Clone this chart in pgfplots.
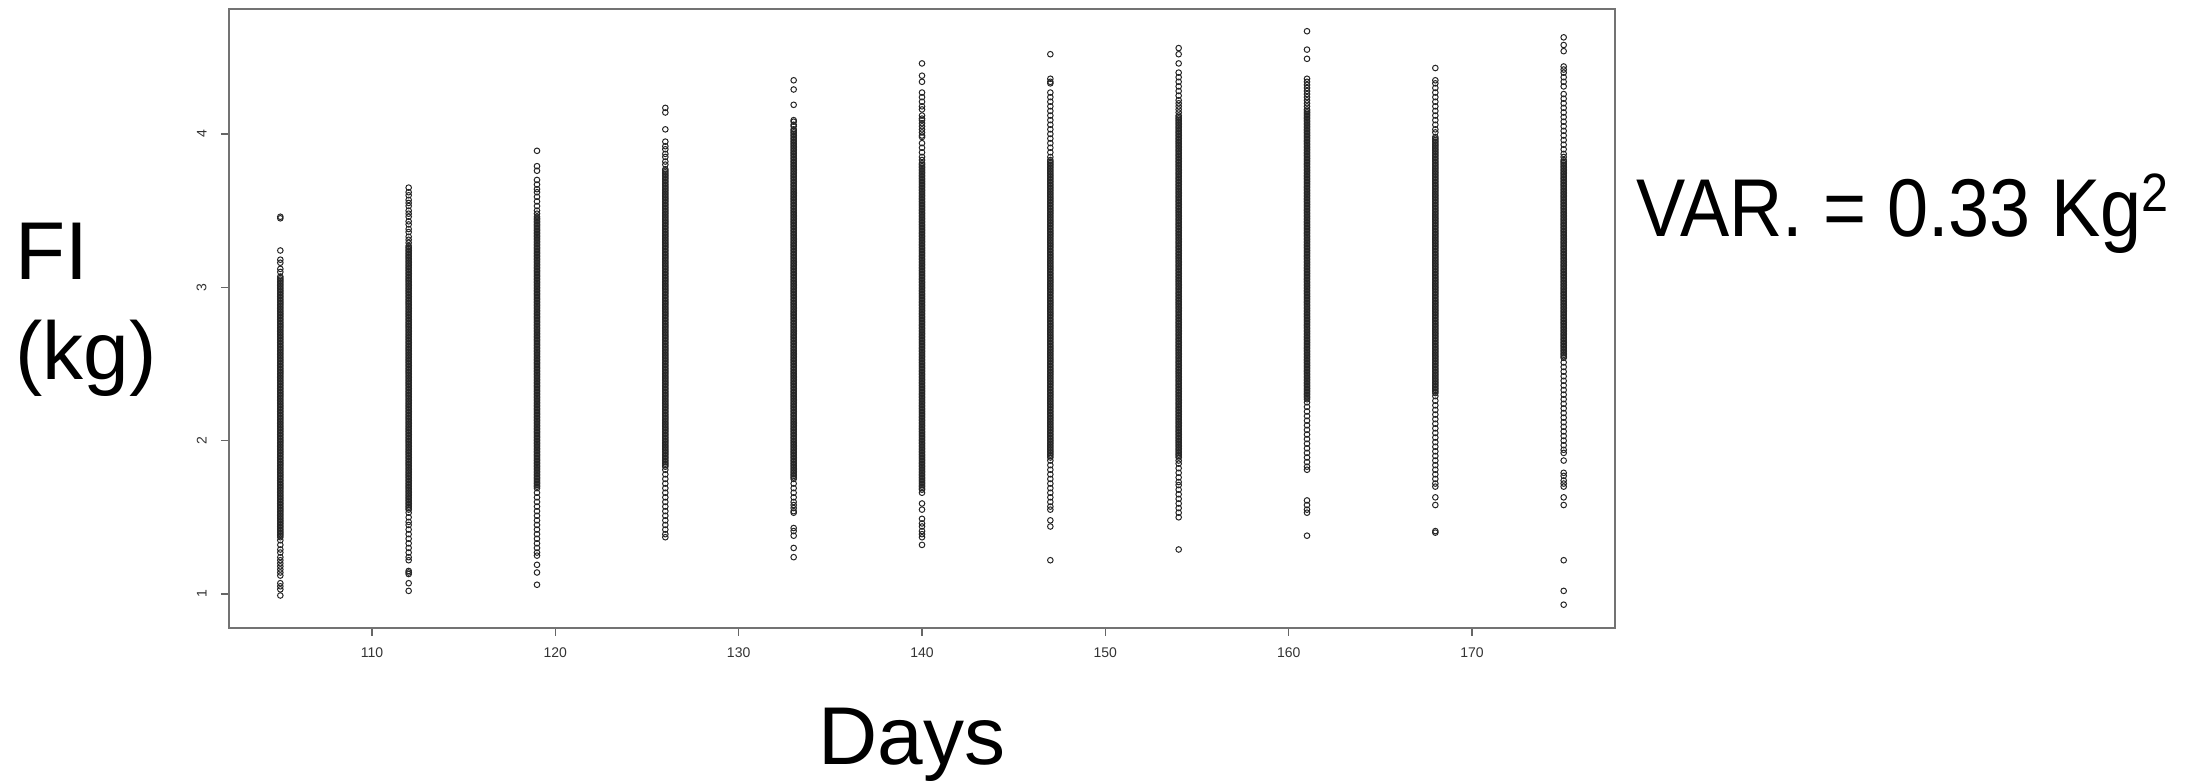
\documentclass[border=0pt]{standalone}
\usepackage{graphicx}
\usepackage{fontspec}
\setmainfont{Liberation Sans}
\usepackage{pgfplots}
\pgfplotsset{compat=1.18}
\begin{document}
\begin{tikzpicture}
\path[use as bounding box] (-114.5pt,-76.5pt) rectangle (988.5pt,314pt);
\begin{axis}[
  scale only axis, width=693pt, height=309.5pt,
  xmin=102.2, xmax=177.8, ymin=0.778, ymax=4.815,
  xtick={110,120,130,140,150,160,170}, ytick={1,2,3,4},
  tick pos=left, tick align=outside, major tick length=4pt,
  axis line style={black!55, line width=0.6pt},
  every tick/.style={black!60, line width=0.6pt},
  /pgf/number format/assume math mode=true,
  tick label style={font=\fontsize{7}{8}\selectfont, text=black!80, inner sep=0pt},
  xticklabel style={anchor=north},
  xticklabel shift=5.5pt,
  yticklabel style={rotate=90, anchor=south},
  yticklabel shift=7pt,
  clip=false,
  fi/.style={only marks, mark=o, mark size=1.4pt, black, mark options={line width=0.5pt, draw=black!85, fill=none}},
]
% day 105
\addplot[fi] coordinates {(105,3.46)(105,3.45)(105,3.24)(105,3.18)(105,3.16)(105,3.12)(105,3.10)
(105,3.07)(105,3.06)(105,3.05)(105,3.04)(105,3.03)(105,3.02)(105,3.01)(105,3.00)
(105,2.99)(105,2.98)(105,2.97)(105,2.96)(105,2.95)(105,2.94)(105,2.93)(105,2.92)(105,2.91)(105,2.90)
(105,2.89)(105,2.88)(105,2.87)(105,2.86)(105,2.85)(105,2.84)(105,2.83)(105,2.82)(105,2.81)(105,2.80)
(105,2.79)(105,2.78)(105,2.77)(105,2.76)(105,2.75)(105,2.74)(105,2.73)(105,2.72)(105,2.71)(105,2.70)
(105,2.69)(105,2.68)(105,2.67)(105,2.66)(105,2.65)(105,2.64)(105,2.63)(105,2.62)(105,2.61)(105,2.60)
(105,2.59)(105,2.58)(105,2.57)(105,2.56)(105,2.55)(105,2.54)(105,2.53)(105,2.52)(105,2.51)(105,2.50)
(105,2.49)(105,2.48)(105,2.47)(105,2.46)(105,2.45)(105,2.44)(105,2.43)(105,2.42)(105,2.41)(105,2.40)
(105,2.39)(105,2.38)(105,2.37)(105,2.36)(105,2.35)(105,2.34)(105,2.33)(105,2.32)(105,2.31)(105,2.30)
(105,2.29)(105,2.28)(105,2.27)(105,2.26)(105,2.25)(105,2.24)(105,2.23)(105,2.22)(105,2.21)(105,2.20)
(105,2.19)(105,2.18)(105,2.17)(105,2.16)(105,2.15)(105,2.14)(105,2.13)(105,2.12)(105,2.11)(105,2.10)
(105,2.09)(105,2.08)(105,2.07)(105,2.06)(105,2.05)(105,2.04)(105,2.03)(105,2.02)(105,2.01)(105,2.00)
(105,1.99)(105,1.98)(105,1.97)(105,1.96)(105,1.95)(105,1.94)(105,1.93)(105,1.92)(105,1.91)(105,1.90)
(105,1.89)(105,1.88)(105,1.87)(105,1.86)(105,1.85)(105,1.84)(105,1.83)(105,1.82)(105,1.81)(105,1.80)
(105,1.79)(105,1.78)(105,1.77)(105,1.76)(105,1.75)(105,1.74)(105,1.73)(105,1.72)(105,1.71)(105,1.70)
(105,1.69)(105,1.68)(105,1.67)(105,1.66)(105,1.65)(105,1.64)(105,1.63)(105,1.62)(105,1.61)(105,1.60)
(105,1.59)(105,1.58)(105,1.57)(105,1.56)(105,1.55)(105,1.54)(105,1.53)(105,1.52)(105,1.51)(105,1.50)
(105,1.49)(105,1.48)(105,1.47)(105,1.46)(105,1.45)(105,1.44)(105,1.43)(105,1.42)(105,1.41)(105,1.40)
(105,1.39)(105,1.38)(105,1.37)
(105,1.35)(105,1.32)(105,1.29)(105,1.27)(105,1.24)(105,1.22)(105,1.20)(105,1.18)(105,1.16)(105,1.14)(105,1.12)(105,1.07)(105,1.05)(105,1.03)(105,0.99)};
% day 112
\addplot[fi] coordinates {(112,3.65)(112,3.62)(112,3.60)(112,3.57)(112,3.55)(112,3.53)(112,3.50)(112,3.48)(112,3.46)(112,3.43)(112,3.41)(112,3.38)(112,3.36)(112,3.33)(112,3.31)(112,3.29)
(112,3.27)(112,3.26)(112,3.25)(112,3.24)(112,3.23)(112,3.22)(112,3.21)(112,3.20)
(112,3.19)(112,3.18)(112,3.17)(112,3.16)(112,3.15)(112,3.14)(112,3.13)(112,3.12)(112,3.11)(112,3.10)
(112,3.09)(112,3.08)(112,3.07)(112,3.06)(112,3.05)(112,3.04)(112,3.03)(112,3.02)(112,3.01)(112,3.00)
(112,2.99)(112,2.98)(112,2.97)(112,2.96)(112,2.95)(112,2.94)(112,2.93)(112,2.92)(112,2.91)(112,2.90)
(112,2.89)(112,2.88)(112,2.87)(112,2.86)(112,2.85)(112,2.84)(112,2.83)(112,2.82)(112,2.81)(112,2.80)
(112,2.79)(112,2.78)(112,2.77)(112,2.76)(112,2.75)(112,2.74)(112,2.73)(112,2.72)(112,2.71)(112,2.70)
(112,2.69)(112,2.68)(112,2.67)(112,2.66)(112,2.65)(112,2.64)(112,2.63)(112,2.62)(112,2.61)(112,2.60)
(112,2.59)(112,2.58)(112,2.57)(112,2.56)(112,2.55)(112,2.54)(112,2.53)(112,2.52)(112,2.51)(112,2.50)
(112,2.49)(112,2.48)(112,2.47)(112,2.46)(112,2.45)(112,2.44)(112,2.43)(112,2.42)(112,2.41)(112,2.40)
(112,2.39)(112,2.38)(112,2.37)(112,2.36)(112,2.35)(112,2.34)(112,2.33)(112,2.32)(112,2.31)(112,2.30)
(112,2.29)(112,2.28)(112,2.27)(112,2.26)(112,2.25)(112,2.24)(112,2.23)(112,2.22)(112,2.21)(112,2.20)
(112,2.19)(112,2.18)(112,2.17)(112,2.16)(112,2.15)(112,2.14)(112,2.13)(112,2.12)(112,2.11)(112,2.10)
(112,2.09)(112,2.08)(112,2.07)(112,2.06)(112,2.05)(112,2.04)(112,2.03)(112,2.02)(112,2.01)(112,2.00)
(112,1.99)(112,1.98)(112,1.97)(112,1.96)(112,1.95)(112,1.94)(112,1.93)(112,1.92)(112,1.91)(112,1.90)
(112,1.89)(112,1.88)(112,1.87)(112,1.86)(112,1.85)(112,1.84)(112,1.83)(112,1.82)(112,1.81)(112,1.80)
(112,1.79)(112,1.78)(112,1.77)(112,1.76)(112,1.75)(112,1.74)(112,1.73)(112,1.72)(112,1.71)(112,1.70)
(112,1.69)(112,1.68)(112,1.67)(112,1.66)(112,1.65)(112,1.64)(112,1.63)(112,1.62)(112,1.61)(112,1.60)
(112,1.59)(112,1.58)(112,1.57)(112,1.56)(112,1.55)
(112,1.53)(112,1.50)(112,1.47)(112,1.45)(112,1.42)(112,1.39)(112,1.36)(112,1.33)(112,1.30)(112,1.27)(112,1.24)(112,1.22)(112,1.15)(112,1.14)(112,1.13)(112,1.07)(112,1.02)};
% day 119
\addplot[fi] coordinates {(119,3.89)(119,3.79)(119,3.76)(119,3.70)(119,3.67)(119,3.64)(119,3.62)(119,3.59)(119,3.56)(119,3.53)(119,3.50)(119,3.48)
(119,3.46)(119,3.45)(119,3.44)(119,3.43)(119,3.42)(119,3.41)(119,3.40)
(119,3.39)(119,3.38)(119,3.37)(119,3.36)(119,3.35)(119,3.34)(119,3.33)(119,3.32)(119,3.31)(119,3.30)
(119,3.29)(119,3.28)(119,3.27)(119,3.26)(119,3.25)(119,3.24)(119,3.23)(119,3.22)(119,3.21)(119,3.20)
(119,3.19)(119,3.18)(119,3.17)(119,3.16)(119,3.15)(119,3.14)(119,3.13)(119,3.12)(119,3.11)(119,3.10)
(119,3.09)(119,3.08)(119,3.07)(119,3.06)(119,3.05)(119,3.04)(119,3.03)(119,3.02)(119,3.01)(119,3.00)
(119,2.99)(119,2.98)(119,2.97)(119,2.96)(119,2.95)(119,2.94)(119,2.93)(119,2.92)(119,2.91)(119,2.90)
(119,2.89)(119,2.88)(119,2.87)(119,2.86)(119,2.85)(119,2.84)(119,2.83)(119,2.82)(119,2.81)(119,2.80)
(119,2.79)(119,2.78)(119,2.77)(119,2.76)(119,2.75)(119,2.74)(119,2.73)(119,2.72)(119,2.71)(119,2.70)
(119,2.69)(119,2.68)(119,2.67)(119,2.66)(119,2.65)(119,2.64)(119,2.63)(119,2.62)(119,2.61)(119,2.60)
(119,2.59)(119,2.58)(119,2.57)(119,2.56)(119,2.55)(119,2.54)(119,2.53)(119,2.52)(119,2.51)(119,2.50)
(119,2.49)(119,2.48)(119,2.47)(119,2.46)(119,2.45)(119,2.44)(119,2.43)(119,2.42)(119,2.41)(119,2.40)
(119,2.39)(119,2.38)(119,2.37)(119,2.36)(119,2.35)(119,2.34)(119,2.33)(119,2.32)(119,2.31)(119,2.30)
(119,2.29)(119,2.28)(119,2.27)(119,2.26)(119,2.25)(119,2.24)(119,2.23)(119,2.22)(119,2.21)(119,2.20)
(119,2.19)(119,2.18)(119,2.17)(119,2.16)(119,2.15)(119,2.14)(119,2.13)(119,2.12)(119,2.11)(119,2.10)
(119,2.09)(119,2.08)(119,2.07)(119,2.06)(119,2.05)(119,2.04)(119,2.03)(119,2.02)(119,2.01)(119,2.00)
(119,1.99)(119,1.98)(119,1.97)(119,1.96)(119,1.95)(119,1.94)(119,1.93)(119,1.92)(119,1.91)(119,1.90)
(119,1.89)(119,1.88)(119,1.87)(119,1.86)(119,1.85)(119,1.84)(119,1.83)(119,1.82)(119,1.81)(119,1.80)
(119,1.79)(119,1.78)(119,1.77)(119,1.76)(119,1.75)(119,1.74)(119,1.73)(119,1.72)(119,1.71)(119,1.70)(119,1.69)
(119,1.66)(119,1.63)(119,1.60)(119,1.57)(119,1.54)(119,1.51)(119,1.48)(119,1.45)(119,1.42)(119,1.39)(119,1.36)(119,1.33)(119,1.30)(119,1.27)(119,1.25)(119,1.19)(119,1.14)(119,1.06)};
% day 126
\addplot[fi] coordinates {(126,4.17)(126,4.14)(126,4.03)(126,3.95)(126,3.92)(126,3.90)(126,3.87)(126,3.85)(126,3.82)(126,3.80)
(126,3.77)(126,3.76)(126,3.75)(126,3.74)(126,3.73)(126,3.72)(126,3.71)(126,3.70)
(126,3.69)(126,3.68)(126,3.67)(126,3.66)(126,3.65)(126,3.64)(126,3.63)(126,3.62)(126,3.61)(126,3.60)
(126,3.59)(126,3.58)(126,3.57)(126,3.56)(126,3.55)(126,3.54)(126,3.53)(126,3.52)(126,3.51)(126,3.50)
(126,3.49)(126,3.48)(126,3.47)(126,3.46)(126,3.45)(126,3.44)(126,3.43)(126,3.42)(126,3.41)(126,3.40)
(126,3.39)(126,3.38)(126,3.37)(126,3.36)(126,3.35)(126,3.34)(126,3.33)(126,3.32)(126,3.31)(126,3.30)
(126,3.29)(126,3.28)(126,3.27)(126,3.26)(126,3.25)(126,3.24)(126,3.23)(126,3.22)(126,3.21)(126,3.20)
(126,3.19)(126,3.18)(126,3.17)(126,3.16)(126,3.15)(126,3.14)(126,3.13)(126,3.12)(126,3.11)(126,3.10)
(126,3.09)(126,3.08)(126,3.07)(126,3.06)(126,3.05)(126,3.04)(126,3.03)(126,3.02)(126,3.01)(126,3.00)
(126,2.99)(126,2.98)(126,2.97)(126,2.96)(126,2.95)(126,2.94)(126,2.93)(126,2.92)(126,2.91)(126,2.90)
(126,2.89)(126,2.88)(126,2.87)(126,2.86)(126,2.85)(126,2.84)(126,2.83)(126,2.82)(126,2.81)(126,2.80)
(126,2.79)(126,2.78)(126,2.77)(126,2.76)(126,2.75)(126,2.74)(126,2.73)(126,2.72)(126,2.71)(126,2.70)
(126,2.69)(126,2.68)(126,2.67)(126,2.66)(126,2.65)(126,2.64)(126,2.63)(126,2.62)(126,2.61)(126,2.60)
(126,2.59)(126,2.58)(126,2.57)(126,2.56)(126,2.55)(126,2.54)(126,2.53)(126,2.52)(126,2.51)(126,2.50)
(126,2.49)(126,2.48)(126,2.47)(126,2.46)(126,2.45)(126,2.44)(126,2.43)(126,2.42)(126,2.41)(126,2.40)
(126,2.39)(126,2.38)(126,2.37)(126,2.36)(126,2.35)(126,2.34)(126,2.33)(126,2.32)(126,2.31)(126,2.30)
(126,2.29)(126,2.28)(126,2.27)(126,2.26)(126,2.25)(126,2.24)(126,2.23)(126,2.22)(126,2.21)(126,2.20)
(126,2.19)(126,2.18)(126,2.17)(126,2.16)(126,2.15)(126,2.14)(126,2.13)(126,2.12)(126,2.11)(126,2.10)
(126,2.09)(126,2.08)(126,2.07)(126,2.06)(126,2.05)(126,2.04)(126,2.03)(126,2.02)(126,2.01)(126,2.00)
(126,1.99)(126,1.98)(126,1.97)(126,1.96)(126,1.95)(126,1.94)(126,1.93)(126,1.92)(126,1.91)(126,1.90)
(126,1.89)(126,1.88)(126,1.87)(126,1.86)(126,1.85)(126,1.84)(126,1.83)
(126,1.81)(126,1.78)(126,1.75)(126,1.72)(126,1.69)(126,1.66)(126,1.63)(126,1.60)(126,1.57)(126,1.54)(126,1.51)(126,1.48)(126,1.45)(126,1.42)(126,1.39)(126,1.37)};
% day 133
\addplot[fi] coordinates {(133,4.35)(133,4.29)(133,4.19)(133,4.09)(133,4.08)(133,4.06)(133,4.05)
(133,4.03)(133,4.02)(133,4.01)(133,4.00)
(133,3.99)(133,3.98)(133,3.97)(133,3.96)(133,3.95)(133,3.94)(133,3.93)(133,3.92)(133,3.91)(133,3.90)
(133,3.89)(133,3.88)(133,3.87)(133,3.86)(133,3.85)(133,3.84)(133,3.83)(133,3.82)(133,3.81)(133,3.80)
(133,3.79)(133,3.78)(133,3.77)(133,3.76)(133,3.75)(133,3.74)(133,3.73)(133,3.72)(133,3.71)(133,3.70)
(133,3.69)(133,3.68)(133,3.67)(133,3.66)(133,3.65)(133,3.64)(133,3.63)(133,3.62)(133,3.61)(133,3.60)
(133,3.59)(133,3.58)(133,3.57)(133,3.56)(133,3.55)(133,3.54)(133,3.53)(133,3.52)(133,3.51)(133,3.50)
(133,3.49)(133,3.48)(133,3.47)(133,3.46)(133,3.45)(133,3.44)(133,3.43)(133,3.42)(133,3.41)(133,3.40)
(133,3.39)(133,3.38)(133,3.37)(133,3.36)(133,3.35)(133,3.34)(133,3.33)(133,3.32)(133,3.31)(133,3.30)
(133,3.29)(133,3.28)(133,3.27)(133,3.26)(133,3.25)(133,3.24)(133,3.23)(133,3.22)(133,3.21)(133,3.20)
(133,3.19)(133,3.18)(133,3.17)(133,3.16)(133,3.15)(133,3.14)(133,3.13)(133,3.12)(133,3.11)(133,3.10)
(133,3.09)(133,3.08)(133,3.07)(133,3.06)(133,3.05)(133,3.04)(133,3.03)(133,3.02)(133,3.01)(133,3.00)
(133,2.99)(133,2.98)(133,2.97)(133,2.96)(133,2.95)(133,2.94)(133,2.93)(133,2.92)(133,2.91)(133,2.90)
(133,2.89)(133,2.88)(133,2.87)(133,2.86)(133,2.85)(133,2.84)(133,2.83)(133,2.82)(133,2.81)(133,2.80)
(133,2.79)(133,2.78)(133,2.77)(133,2.76)(133,2.75)(133,2.74)(133,2.73)(133,2.72)(133,2.71)(133,2.70)
(133,2.69)(133,2.68)(133,2.67)(133,2.66)(133,2.65)(133,2.64)(133,2.63)(133,2.62)(133,2.61)(133,2.60)
(133,2.59)(133,2.58)(133,2.57)(133,2.56)(133,2.55)(133,2.54)(133,2.53)(133,2.52)(133,2.51)(133,2.50)
(133,2.49)(133,2.48)(133,2.47)(133,2.46)(133,2.45)(133,2.44)(133,2.43)(133,2.42)(133,2.41)(133,2.40)
(133,2.39)(133,2.38)(133,2.37)(133,2.36)(133,2.35)(133,2.34)(133,2.33)(133,2.32)(133,2.31)(133,2.30)
(133,2.29)(133,2.28)(133,2.27)(133,2.26)(133,2.25)(133,2.24)(133,2.23)(133,2.22)(133,2.21)(133,2.20)
(133,2.19)(133,2.18)(133,2.17)(133,2.16)(133,2.15)(133,2.14)(133,2.13)(133,2.12)(133,2.11)(133,2.10)
(133,2.09)(133,2.08)(133,2.07)(133,2.06)(133,2.05)(133,2.04)(133,2.03)(133,2.02)(133,2.01)(133,2.00)
(133,1.99)(133,1.98)(133,1.97)(133,1.96)(133,1.95)(133,1.94)(133,1.93)(133,1.92)(133,1.91)(133,1.90)
(133,1.89)(133,1.88)(133,1.87)(133,1.86)(133,1.85)(133,1.84)(133,1.83)(133,1.82)(133,1.81)(133,1.80)
(133,1.79)(133,1.78)(133,1.77)(133,1.76)(133,1.75)
(133,1.72)(133,1.69)(133,1.66)(133,1.63)(133,1.60)(133,1.58)(133,1.56)(133,1.54)(133,1.53)(133,1.43)(133,1.41)(133,1.38)(133,1.30)(133,1.24)};
% day 140
\addplot[fi] coordinates {(140,4.46)(140,4.38)(140,4.34)(140,4.27)(140,4.24)(140,4.21)(140,4.18)(140,4.16)(140,4.12)(140,4.10)(140,4.09)(140,4.07)(140,4.05)(140,4.03)(140,4.01)(140,3.99)(140,3.98)(140,3.94)(140,3.91)(140,3.88)(140,3.85)(140,3.83)
(140,3.81)(140,3.80)
(140,3.79)(140,3.78)(140,3.77)(140,3.76)(140,3.75)(140,3.74)(140,3.73)(140,3.72)(140,3.71)(140,3.70)
(140,3.69)(140,3.68)(140,3.67)(140,3.66)(140,3.65)(140,3.64)(140,3.63)(140,3.62)(140,3.61)(140,3.60)
(140,3.59)(140,3.58)(140,3.57)(140,3.56)(140,3.55)(140,3.54)(140,3.53)(140,3.52)(140,3.51)(140,3.50)
(140,3.49)(140,3.48)(140,3.47)(140,3.46)(140,3.45)(140,3.44)(140,3.43)(140,3.42)(140,3.41)(140,3.40)
(140,3.39)(140,3.38)(140,3.37)(140,3.36)(140,3.35)(140,3.34)(140,3.33)(140,3.32)(140,3.31)(140,3.30)
(140,3.29)(140,3.28)(140,3.27)(140,3.26)(140,3.25)(140,3.24)(140,3.23)(140,3.22)(140,3.21)(140,3.20)
(140,3.19)(140,3.18)(140,3.17)(140,3.16)(140,3.15)(140,3.14)(140,3.13)(140,3.12)(140,3.11)(140,3.10)
(140,3.09)(140,3.08)(140,3.07)(140,3.06)(140,3.05)(140,3.04)(140,3.03)(140,3.02)(140,3.01)(140,3.00)
(140,2.99)(140,2.98)(140,2.97)(140,2.96)(140,2.95)(140,2.94)(140,2.93)(140,2.92)(140,2.91)(140,2.90)
(140,2.89)(140,2.88)(140,2.87)(140,2.86)(140,2.85)(140,2.84)(140,2.83)(140,2.82)(140,2.81)(140,2.80)
(140,2.79)(140,2.78)(140,2.77)(140,2.76)(140,2.75)(140,2.74)(140,2.73)(140,2.72)(140,2.71)(140,2.70)
(140,2.69)(140,2.68)(140,2.67)(140,2.66)(140,2.65)(140,2.64)(140,2.63)(140,2.62)(140,2.61)(140,2.60)
(140,2.59)(140,2.58)(140,2.57)(140,2.56)(140,2.55)(140,2.54)(140,2.53)(140,2.52)(140,2.51)(140,2.50)
(140,2.49)(140,2.48)(140,2.47)(140,2.46)(140,2.45)(140,2.44)(140,2.43)(140,2.42)(140,2.41)(140,2.40)
(140,2.39)(140,2.38)(140,2.37)(140,2.36)(140,2.35)(140,2.34)(140,2.33)(140,2.32)(140,2.31)(140,2.30)
(140,2.29)(140,2.28)(140,2.27)(140,2.26)(140,2.25)(140,2.24)(140,2.23)(140,2.22)(140,2.21)(140,2.20)
(140,2.19)(140,2.18)(140,2.17)(140,2.16)(140,2.15)(140,2.14)(140,2.13)(140,2.12)(140,2.11)(140,2.10)
(140,2.09)(140,2.08)(140,2.07)(140,2.06)(140,2.05)(140,2.04)(140,2.03)(140,2.02)(140,2.01)(140,2.00)
(140,1.99)(140,1.98)(140,1.97)(140,1.96)(140,1.95)(140,1.94)(140,1.93)(140,1.92)(140,1.91)(140,1.90)
(140,1.89)(140,1.88)(140,1.87)(140,1.86)(140,1.85)(140,1.84)(140,1.83)(140,1.82)(140,1.81)(140,1.80)
(140,1.79)(140,1.78)(140,1.77)(140,1.76)(140,1.75)(140,1.74)(140,1.73)(140,1.72)(140,1.71)(140,1.70)
(140,1.69)(140,1.68)
(140,1.66)(140,1.59)(140,1.55)(140,1.49)(140,1.46)(140,1.44)(140,1.41)(140,1.39)(140,1.37)(140,1.32)};
% day 147
\addplot[fi] coordinates {(147,4.52)(147,4.36)(147,4.34)(147,4.33)(147,4.27)(147,4.24)(147,4.21)(147,4.18)(147,4.15)(147,4.12)(147,4.09)(147,4.06)(147,4.03)(147,4.00)(147,3.97)(147,3.94)(147,3.91)(147,3.88)(147,3.85)
(147,3.83)(147,3.82)(147,3.81)(147,3.80)
(147,3.79)(147,3.78)(147,3.77)(147,3.76)(147,3.75)(147,3.74)(147,3.73)(147,3.72)(147,3.71)(147,3.70)
(147,3.69)(147,3.68)(147,3.67)(147,3.66)(147,3.65)(147,3.64)(147,3.63)(147,3.62)(147,3.61)(147,3.60)
(147,3.59)(147,3.58)(147,3.57)(147,3.56)(147,3.55)(147,3.54)(147,3.53)(147,3.52)(147,3.51)(147,3.50)
(147,3.49)(147,3.48)(147,3.47)(147,3.46)(147,3.45)(147,3.44)(147,3.43)(147,3.42)(147,3.41)(147,3.40)
(147,3.39)(147,3.38)(147,3.37)(147,3.36)(147,3.35)(147,3.34)(147,3.33)(147,3.32)(147,3.31)(147,3.30)
(147,3.29)(147,3.28)(147,3.27)(147,3.26)(147,3.25)(147,3.24)(147,3.23)(147,3.22)(147,3.21)(147,3.20)
(147,3.19)(147,3.18)(147,3.17)(147,3.16)(147,3.15)(147,3.14)(147,3.13)(147,3.12)(147,3.11)(147,3.10)
(147,3.09)(147,3.08)(147,3.07)(147,3.06)(147,3.05)(147,3.04)(147,3.03)(147,3.02)(147,3.01)(147,3.00)
(147,2.99)(147,2.98)(147,2.97)(147,2.96)(147,2.95)(147,2.94)(147,2.93)(147,2.92)(147,2.91)(147,2.90)
(147,2.89)(147,2.88)(147,2.87)(147,2.86)(147,2.85)(147,2.84)(147,2.83)(147,2.82)(147,2.81)(147,2.80)
(147,2.79)(147,2.78)(147,2.77)(147,2.76)(147,2.75)(147,2.74)(147,2.73)(147,2.72)(147,2.71)(147,2.70)
(147,2.69)(147,2.68)(147,2.67)(147,2.66)(147,2.65)(147,2.64)(147,2.63)(147,2.62)(147,2.61)(147,2.60)
(147,2.59)(147,2.58)(147,2.57)(147,2.56)(147,2.55)(147,2.54)(147,2.53)(147,2.52)(147,2.51)(147,2.50)
(147,2.49)(147,2.48)(147,2.47)(147,2.46)(147,2.45)(147,2.44)(147,2.43)(147,2.42)(147,2.41)(147,2.40)
(147,2.39)(147,2.38)(147,2.37)(147,2.36)(147,2.35)(147,2.34)(147,2.33)(147,2.32)(147,2.31)(147,2.30)
(147,2.29)(147,2.28)(147,2.27)(147,2.26)(147,2.25)(147,2.24)(147,2.23)(147,2.22)(147,2.21)(147,2.20)
(147,2.19)(147,2.18)(147,2.17)(147,2.16)(147,2.15)(147,2.14)(147,2.13)(147,2.12)(147,2.11)(147,2.10)
(147,2.09)(147,2.08)(147,2.07)(147,2.06)(147,2.05)(147,2.04)(147,2.03)(147,2.02)(147,2.01)(147,2.00)
(147,1.99)(147,1.98)(147,1.97)(147,1.96)(147,1.95)(147,1.94)(147,1.93)(147,1.92)(147,1.91)(147,1.90)(147,1.89)
(147,1.87)(147,1.84)(147,1.81)(147,1.78)(147,1.75)(147,1.72)(147,1.69)(147,1.66)(147,1.63)(147,1.60)(147,1.57)(147,1.55)(147,1.48)(147,1.44)(147,1.22)};
% day 154
\addplot[fi] coordinates {(154,4.56)(154,4.52)(154,4.46)(154,4.40)(154,4.37)(154,4.34)(154,4.31)(154,4.28)(154,4.25)(154,4.22)(154,4.20)(154,4.18)(154,4.16)(154,4.14)
(154,4.12)(154,4.11)(154,4.10)
(154,4.09)(154,4.08)(154,4.07)(154,4.06)(154,4.05)(154,4.04)(154,4.03)(154,4.02)(154,4.01)(154,4.00)
(154,3.99)(154,3.98)(154,3.97)(154,3.96)(154,3.95)(154,3.94)(154,3.93)(154,3.92)(154,3.91)(154,3.90)
(154,3.89)(154,3.88)(154,3.87)(154,3.86)(154,3.85)(154,3.84)(154,3.83)(154,3.82)(154,3.81)(154,3.80)
(154,3.79)(154,3.78)(154,3.77)(154,3.76)(154,3.75)(154,3.74)(154,3.73)(154,3.72)(154,3.71)(154,3.70)
(154,3.69)(154,3.68)(154,3.67)(154,3.66)(154,3.65)(154,3.64)(154,3.63)(154,3.62)(154,3.61)(154,3.60)
(154,3.59)(154,3.58)(154,3.57)(154,3.56)(154,3.55)(154,3.54)(154,3.53)(154,3.52)(154,3.51)(154,3.50)
(154,3.49)(154,3.48)(154,3.47)(154,3.46)(154,3.45)(154,3.44)(154,3.43)(154,3.42)(154,3.41)(154,3.40)
(154,3.39)(154,3.38)(154,3.37)(154,3.36)(154,3.35)(154,3.34)(154,3.33)(154,3.32)(154,3.31)(154,3.30)
(154,3.29)(154,3.28)(154,3.27)(154,3.26)(154,3.25)(154,3.24)(154,3.23)(154,3.22)(154,3.21)(154,3.20)
(154,3.19)(154,3.18)(154,3.17)(154,3.16)(154,3.15)(154,3.14)(154,3.13)(154,3.12)(154,3.11)(154,3.10)
(154,3.09)(154,3.08)(154,3.07)(154,3.06)(154,3.05)(154,3.04)(154,3.03)(154,3.02)(154,3.01)(154,3.00)
(154,2.99)(154,2.98)(154,2.97)(154,2.96)(154,2.95)(154,2.94)(154,2.93)(154,2.92)(154,2.91)(154,2.90)
(154,2.89)(154,2.88)(154,2.87)(154,2.86)(154,2.85)(154,2.84)(154,2.83)(154,2.82)(154,2.81)(154,2.80)
(154,2.79)(154,2.78)(154,2.77)(154,2.76)(154,2.75)(154,2.74)(154,2.73)(154,2.72)(154,2.71)(154,2.70)
(154,2.69)(154,2.68)(154,2.67)(154,2.66)(154,2.65)(154,2.64)(154,2.63)(154,2.62)(154,2.61)(154,2.60)
(154,2.59)(154,2.58)(154,2.57)(154,2.56)(154,2.55)(154,2.54)(154,2.53)(154,2.52)(154,2.51)(154,2.50)
(154,2.49)(154,2.48)(154,2.47)(154,2.46)(154,2.45)(154,2.44)(154,2.43)(154,2.42)(154,2.41)(154,2.40)
(154,2.39)(154,2.38)(154,2.37)(154,2.36)(154,2.35)(154,2.34)(154,2.33)(154,2.32)(154,2.31)(154,2.30)
(154,2.29)(154,2.28)(154,2.27)(154,2.26)(154,2.25)(154,2.24)(154,2.23)(154,2.22)(154,2.21)(154,2.20)
(154,2.19)(154,2.18)(154,2.17)(154,2.16)(154,2.15)(154,2.14)(154,2.13)(154,2.12)(154,2.11)(154,2.10)
(154,2.09)(154,2.08)(154,2.07)(154,2.06)(154,2.05)(154,2.04)(154,2.03)(154,2.02)(154,2.01)(154,2.00)
(154,1.99)(154,1.98)(154,1.97)(154,1.96)(154,1.95)(154,1.94)(154,1.93)(154,1.92)(154,1.91)(154,1.90)(154,1.89)
(154,1.87)(154,1.85)(154,1.82)(154,1.79)(154,1.76)(154,1.73)(154,1.71)(154,1.68)(154,1.65)(154,1.62)(154,1.59)(154,1.56)(154,1.53)(154,1.50)(154,1.29)};
% day 161
\addplot[fi] coordinates {(161,4.67)(161,4.55)(161,4.49)(161,4.36)(161,4.34)(161,4.32)(161,4.30)(161,4.28)(161,4.26)(161,4.24)(161,4.22)(161,4.20)(161,4.18)
(161,4.16)(161,4.15)(161,4.14)(161,4.13)(161,4.12)(161,4.11)(161,4.10)
(161,4.09)(161,4.08)(161,4.07)(161,4.06)(161,4.05)(161,4.04)(161,4.03)(161,4.02)(161,4.01)(161,4.00)
(161,3.99)(161,3.98)(161,3.97)(161,3.96)(161,3.95)(161,3.94)(161,3.93)(161,3.92)(161,3.91)(161,3.90)
(161,3.89)(161,3.88)(161,3.87)(161,3.86)(161,3.85)(161,3.84)(161,3.83)(161,3.82)(161,3.81)(161,3.80)
(161,3.79)(161,3.78)(161,3.77)(161,3.76)(161,3.75)(161,3.74)(161,3.73)(161,3.72)(161,3.71)(161,3.70)
(161,3.69)(161,3.68)(161,3.67)(161,3.66)(161,3.65)(161,3.64)(161,3.63)(161,3.62)(161,3.61)(161,3.60)
(161,3.59)(161,3.58)(161,3.57)(161,3.56)(161,3.55)(161,3.54)(161,3.53)(161,3.52)(161,3.51)(161,3.50)
(161,3.49)(161,3.48)(161,3.47)(161,3.46)(161,3.45)(161,3.44)(161,3.43)(161,3.42)(161,3.41)(161,3.40)
(161,3.39)(161,3.38)(161,3.37)(161,3.36)(161,3.35)(161,3.34)(161,3.33)(161,3.32)(161,3.31)(161,3.30)
(161,3.29)(161,3.28)(161,3.27)(161,3.26)(161,3.25)(161,3.24)(161,3.23)(161,3.22)(161,3.21)(161,3.20)
(161,3.19)(161,3.18)(161,3.17)(161,3.16)(161,3.15)(161,3.14)(161,3.13)(161,3.12)(161,3.11)(161,3.10)
(161,3.09)(161,3.08)(161,3.07)(161,3.06)(161,3.05)(161,3.04)(161,3.03)(161,3.02)(161,3.01)(161,3.00)
(161,2.99)(161,2.98)(161,2.97)(161,2.96)(161,2.95)(161,2.94)(161,2.93)(161,2.92)(161,2.91)(161,2.90)
(161,2.89)(161,2.88)(161,2.87)(161,2.86)(161,2.85)(161,2.84)(161,2.83)(161,2.82)(161,2.81)(161,2.80)
(161,2.79)(161,2.78)(161,2.77)(161,2.76)(161,2.75)(161,2.74)(161,2.73)(161,2.72)(161,2.71)(161,2.70)
(161,2.69)(161,2.68)(161,2.67)(161,2.66)(161,2.65)(161,2.64)(161,2.63)(161,2.62)(161,2.61)(161,2.60)
(161,2.59)(161,2.58)(161,2.57)(161,2.56)(161,2.55)(161,2.54)(161,2.53)(161,2.52)(161,2.51)(161,2.50)
(161,2.49)(161,2.48)(161,2.47)(161,2.46)(161,2.45)(161,2.44)(161,2.43)(161,2.42)(161,2.41)(161,2.40)
(161,2.39)(161,2.38)(161,2.37)(161,2.36)(161,2.35)(161,2.34)(161,2.33)(161,2.32)(161,2.31)(161,2.30)
(161,2.29)(161,2.28)(161,2.27)
(161,2.25)(161,2.22)(161,2.19)(161,2.16)(161,2.13)(161,2.10)(161,2.07)(161,2.04)(161,2.01)(161,1.98)(161,1.95)(161,1.92)(161,1.89)(161,1.86)(161,1.83)(161,1.81)(161,1.61)(161,1.58)(161,1.55)(161,1.53)(161,1.38)};
% day 168
\addplot[fi] coordinates {(168,4.43)(168,4.35)(168,4.33)(168,4.30)(168,4.27)(168,4.24)(168,4.21)(168,4.18)(168,4.15)(168,4.12)(168,4.09)(168,4.06)(168,4.03)(168,4.01)
(168,3.98)(168,3.97)(168,3.96)(168,3.95)(168,3.94)(168,3.93)(168,3.92)(168,3.91)(168,3.90)
(168,3.89)(168,3.88)(168,3.87)(168,3.86)(168,3.85)(168,3.84)(168,3.83)(168,3.82)(168,3.81)(168,3.80)
(168,3.79)(168,3.78)(168,3.77)(168,3.76)(168,3.75)(168,3.74)(168,3.73)(168,3.72)(168,3.71)(168,3.70)
(168,3.69)(168,3.68)(168,3.67)(168,3.66)(168,3.65)(168,3.64)(168,3.63)(168,3.62)(168,3.61)(168,3.60)
(168,3.59)(168,3.58)(168,3.57)(168,3.56)(168,3.55)(168,3.54)(168,3.53)(168,3.52)(168,3.51)(168,3.50)
(168,3.49)(168,3.48)(168,3.47)(168,3.46)(168,3.45)(168,3.44)(168,3.43)(168,3.42)(168,3.41)(168,3.40)
(168,3.39)(168,3.38)(168,3.37)(168,3.36)(168,3.35)(168,3.34)(168,3.33)(168,3.32)(168,3.31)(168,3.30)
(168,3.29)(168,3.28)(168,3.27)(168,3.26)(168,3.25)(168,3.24)(168,3.23)(168,3.22)(168,3.21)(168,3.20)
(168,3.19)(168,3.18)(168,3.17)(168,3.16)(168,3.15)(168,3.14)(168,3.13)(168,3.12)(168,3.11)(168,3.10)
(168,3.09)(168,3.08)(168,3.07)(168,3.06)(168,3.05)(168,3.04)(168,3.03)(168,3.02)(168,3.01)(168,3.00)
(168,2.99)(168,2.98)(168,2.97)(168,2.96)(168,2.95)(168,2.94)(168,2.93)(168,2.92)(168,2.91)(168,2.90)
(168,2.89)(168,2.88)(168,2.87)(168,2.86)(168,2.85)(168,2.84)(168,2.83)(168,2.82)(168,2.81)(168,2.80)
(168,2.79)(168,2.78)(168,2.77)(168,2.76)(168,2.75)(168,2.74)(168,2.73)(168,2.72)(168,2.71)(168,2.70)
(168,2.69)(168,2.68)(168,2.67)(168,2.66)(168,2.65)(168,2.64)(168,2.63)(168,2.62)(168,2.61)(168,2.60)
(168,2.59)(168,2.58)(168,2.57)(168,2.56)(168,2.55)(168,2.54)(168,2.53)(168,2.52)(168,2.51)(168,2.50)
(168,2.49)(168,2.48)(168,2.47)(168,2.46)(168,2.45)(168,2.44)(168,2.43)(168,2.42)(168,2.41)(168,2.40)
(168,2.39)(168,2.38)(168,2.37)(168,2.36)(168,2.35)(168,2.34)(168,2.33)(168,2.32)(168,2.31)
(168,2.29)(168,2.26)(168,2.23)(168,2.20)(168,2.17)(168,2.14)(168,2.11)(168,2.08)(168,2.05)(168,2.02)(168,1.99)(168,1.96)(168,1.93)(168,1.90)(168,1.87)(168,1.84)(168,1.81)(168,1.78)(168,1.75)(168,1.72)(168,1.70)(168,1.63)(168,1.58)(168,1.41)(168,1.40)};
% day 175
\addplot[fi] coordinates {(175,4.63)(175,4.58)(175,4.54)(175,4.44)(175,4.42)(175,4.40)(175,4.37)(175,4.34)(175,4.31)(175,4.26)(175,4.23)(175,4.20)(175,4.17)(175,4.14)(175,4.11)(175,4.08)(175,4.05)(175,4.02)(175,3.99)(175,3.96)(175,3.93)(175,3.90)(175,3.87)(175,3.85)
(175,3.83)(175,3.82)(175,3.81)(175,3.80)
(175,3.79)(175,3.78)(175,3.77)(175,3.76)(175,3.75)(175,3.74)(175,3.73)(175,3.72)(175,3.71)(175,3.70)
(175,3.69)(175,3.68)(175,3.67)(175,3.66)(175,3.65)(175,3.64)(175,3.63)(175,3.62)(175,3.61)(175,3.60)
(175,3.59)(175,3.58)(175,3.57)(175,3.56)(175,3.55)(175,3.54)(175,3.53)(175,3.52)(175,3.51)(175,3.50)
(175,3.49)(175,3.48)(175,3.47)(175,3.46)(175,3.45)(175,3.44)(175,3.43)(175,3.42)(175,3.41)(175,3.40)
(175,3.39)(175,3.38)(175,3.37)(175,3.36)(175,3.35)(175,3.34)(175,3.33)(175,3.32)(175,3.31)(175,3.30)
(175,3.29)(175,3.28)(175,3.27)(175,3.26)(175,3.25)(175,3.24)(175,3.23)(175,3.22)(175,3.21)(175,3.20)
(175,3.19)(175,3.18)(175,3.17)(175,3.16)(175,3.15)(175,3.14)(175,3.13)(175,3.12)(175,3.11)(175,3.10)
(175,3.09)(175,3.08)(175,3.07)(175,3.06)(175,3.05)(175,3.04)(175,3.03)(175,3.02)(175,3.01)(175,3.00)
(175,2.99)(175,2.98)(175,2.97)(175,2.96)(175,2.95)(175,2.94)(175,2.93)(175,2.92)(175,2.91)(175,2.90)
(175,2.89)(175,2.88)(175,2.87)(175,2.86)(175,2.85)(175,2.84)(175,2.83)(175,2.82)(175,2.81)(175,2.80)
(175,2.79)(175,2.78)(175,2.77)(175,2.76)(175,2.75)(175,2.74)(175,2.73)(175,2.72)(175,2.71)(175,2.70)
(175,2.69)(175,2.68)(175,2.67)(175,2.66)(175,2.65)(175,2.64)(175,2.63)(175,2.62)(175,2.61)(175,2.60)
(175,2.59)(175,2.58)(175,2.57)(175,2.56)(175,2.55)(175,2.54)
(175,2.51)(175,2.48)(175,2.45)(175,2.42)(175,2.39)(175,2.36)(175,2.33)(175,2.30)(175,2.27)(175,2.24)(175,2.21)(175,2.18)(175,2.15)(175,2.12)(175,2.09)(175,2.06)(175,2.03)(175,2.00)(175,1.97)(175,1.94)(175,1.92)(175,1.87)(175,1.79)(175,1.77)(175,1.74)(175,1.72)(175,1.70)(175,1.63)(175,1.58)(175,1.22)(175,1.02)(175,0.93)};
\end{axis}
\node[anchor=base west, inner sep=0pt, font=\fontsize{41}{41}\selectfont] at (-107pt,174pt) {FI};
\node[anchor=base west, inner sep=0pt, font=\fontsize{41}{41}\selectfont] at (-107pt,124pt) {(kg)};
\node[anchor=base, inner sep=0pt, font=\fontsize{41}{41}\selectfont] at (341.5pt,-68.5pt) {Days};
\node[anchor=base west, inner sep=0pt, font=\fontsize{41}{41}\selectfont] at (703.5pt,195.5pt) {\scalebox{0.9}[1]{VAR. = 0.33 Kg\raisebox{12.5pt}{\fontsize{27}{27}\selectfont 2}}};
\end{tikzpicture}
\end{document}
